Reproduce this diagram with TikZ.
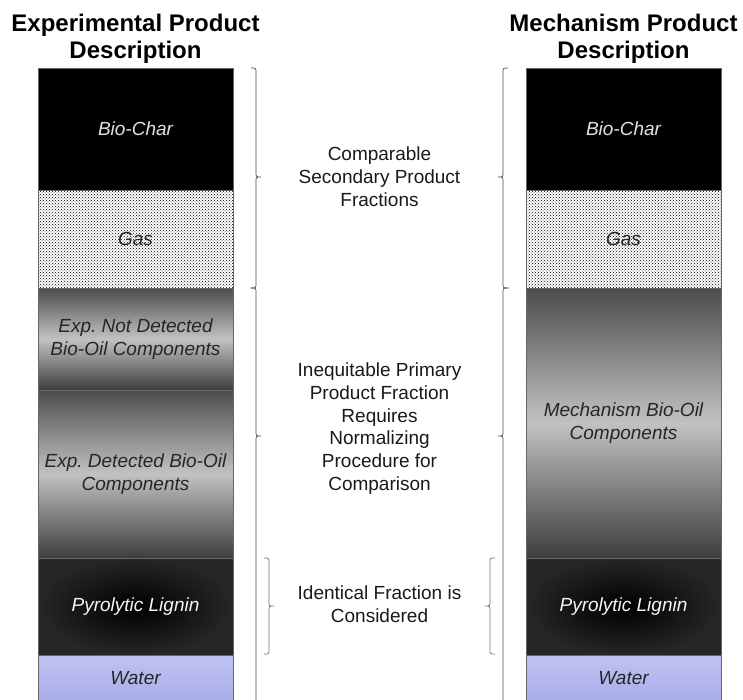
\documentclass[tikz,border=0pt]{standalone}
\usepackage{fontspec}
\usepackage{tikz}
\usetikzlibrary{positioning, patterns}
\newfontfamily\arialfont{Liberation Sans}
\frenchspacing
\newcommand{\colfont}{\arialfont\itshape\fontsize{19}{22.8}\selectfont}
\newcommand{\notefont}{\arialfont\fontsize{19}{22.8}\selectfont}
\newcommand{\headfont}{\arialfont\bfseries\fontsize{24}{27}\selectfont}
\definecolor{water_top}{RGB}{190,194,243}
\definecolor{water_bot}{RGB}{170,174,232}
% brace: x, top, tip, bottom, direction (+1 right, -1 left), curl radius
\newcommand{\sidebrace}[7][]{%
    \draw[brace_line, #1] ({#2-(#6)*(#7)},#3) .. controls (#2,#3) .. (#2,{#3+#7})
        -- (#2,{#4-#7}) .. controls (#2,#4) .. ({#2+(#6)*(#7)},#4)
        .. controls (#2,#4) .. (#2,{#4+#7})
        -- (#2,{#5-#7}) .. controls (#2,#5) .. ({#2-(#6)*(#7)},#5);
}
\tikzset{
    col_sec/.style={rectangle, draw=black!60, line width=0.8pt, minimum width=195pt,
        inner sep=0pt, outer sep=0pt, align=center, font=\colfont},
    char_sec/.style={col_sec, fill=black, text=black!12},
    gas_sec/.style={col_sec, pattern=crosshatch dots, pattern color=black, text=black!85},
    oil_sec/.style={col_sec, top color=black!70, bottom color=black!76, middle color=black!24, text=black!85},
    lignin_sec/.style={col_sec, inner color=black, outer color=black!85, text=black!4},
    water_sec/.style={col_sec, top color=water_top, bottom color=water_bot, text=black!85},
    brace_line/.style={draw=black!70, line width=0.7pt},
    note/.style={align=center, inner sep=0pt, font=\notefont, text=black!90},
    head/.style={align=center, inner sep=0pt, font=\headfont}
}

\begin{document}
\begin{tikzpicture}[x=1pt, y=-1pt]
    \useasboundingbox (0,0) rectangle (743,700);
    % experimental column
    \node[head] (exp_head) at (135.5,39) {Experimental Product\\Description};
    \node[char_sec, minimum height=122pt] (l_char) at (135.5,129) {Bio-Char};
    \node[gas_sec, minimum height=98pt, below=0pt of l_char] (l_gas) {Gas};
    \node[oil_sec, minimum height=102pt, below=0pt of l_gas] (l_notdet) {Exp. Not Detected\\Bio-Oil Components};
    \node[oil_sec, minimum height=168pt, below=0pt of l_notdet] (l_det) {Exp. Detected Bio-Oil\\Components};
    \node[lignin_sec, minimum height=97pt, below=0pt of l_det] (l_lignin) {Pyrolytic Lignin};
    \node[water_sec, minimum height=46pt, below=0pt of l_lignin] (l_water) {Water};
    % mechanism column
    \node[head] (mech_head) at (623.5,39) {Mechanism Product\\Description};
    \node[char_sec, minimum height=122pt] (r_char) at (623.5,129) {Bio-Char};
    \node[gas_sec, minimum height=98pt, below=0pt of r_char] (r_gas) {Gas};
    \node[oil_sec, minimum height=270pt, below=0pt of r_gas] (r_mech) {Mechanism Bio-Oil\\Components};
    \node[lignin_sec, minimum height=97pt, below=0pt of r_mech] (r_lignin) {Pyrolytic Lignin};
    \node[water_sec, minimum height=46pt, below=0pt of r_lignin] (r_water) {Water};
    % braces
    \sidebrace{256}{68}{177}{288}{1}{5}
    \sidebrace{256}{288}{436}{760}{1}{5}
    \sidebrace[draw=black!55]{269}{558}{606}{654}{1}{5}
    \sidebrace{503}{68}{177}{288}{-1}{5}
    \sidebrace{503}{288}{436}{760}{-1}{5}
    \sidebrace[draw=black!55]{490}{558}{606}{654}{-1}{5}
    % notes in between
    \node[note] (secondary) at (379.5,177) {Comparable\\Secondary Product\\Fractions};
    \node[note] (primary) at (379.5,428.5) {Inequitable Primary\\Product Fraction\\Requires\\Normalizing\\Procedure for\\Comparison};
    \node[note] (identical) at (379.5,604) {Identical Fraction is\\Considered};
\end{tikzpicture}
\end{document}
